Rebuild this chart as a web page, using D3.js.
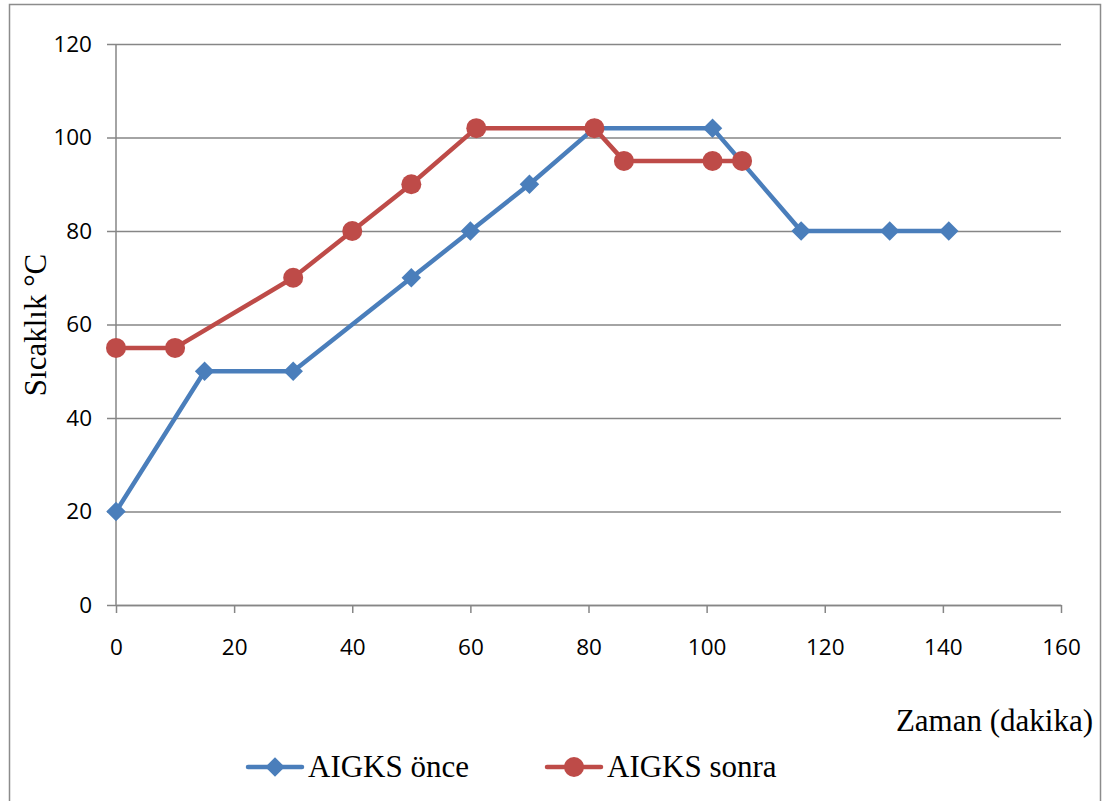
<!DOCTYPE html>
<html>
<head>
<meta charset="utf-8">
<script src="https://cdn.jsdelivr.net/npm/d3@7"></script>
<style>
  html, body { margin: 0; padding: 0; background: #fff; }
  svg { display: block; }
</style>
</head>
<body>
<script>
// Temperature profile over time, before and after AIGKS
const onceTime   = [0, 15, 30, 50, 60, 70, 81, 101, 116, 131, 141];
const onceTemp   = [20, 50, 50, 70, 80, 90, 102, 102, 80, 80, 80];
const sonraTime  = [0, 10, 30, 40, 50, 61, 81, 86, 101, 106];
const sonraTemp  = [55, 55, 70, 80, 90, 102, 102, 95, 95, 95];
const xTicks = [0, 20, 40, 60, 80, 100, 120, 140, 160];
const yTicks = [0, 20, 40, 60, 80, 100, 120];
const seriesNames = ["AIGKS önce", "AIGKS sonra"];

const W = 1105, H = 801;
const blue = "#4a7ebb", red = "#be4b48", grid = "#868686";
const tickFont = "Open Sans, Liberation Sans, sans-serif";
const titleFont = "Liberation Serif, serif";

const svg = d3.select("body").append("svg").attr("width", W).attr("height", H);

// outer frame
svg.append("rect").attr("x", 9.5).attr("y", 4.5).attr("width", 1091).attr("height", 805)
  .attr("fill", "none").attr("stroke", "#8c8c8c").attr("stroke-width", 1.5);

const x = d3.scaleLinear().domain([0, 160]).range([116, 1061]);
const y = d3.scaleLinear().domain([0, 120]).range([605, 44]);

// horizontal gridlines with left tick marks
const yAxis = d3.axisLeft(y).tickValues(yTicks).tickSize(-(1061 - 107)).tickSizeOuter(0).tickPadding(15);
const gy = svg.append("g").attr("transform", "translate(107,0)").call(yAxis);
gy.select(".domain").remove();
gy.selectAll(".tick line").attr("stroke", grid).attr("stroke-width", 1.5);
gy.selectAll(".tick text").attr("font-family", tickFont)
  .attr("font-size", 22.5).attr("fill", "#000");

// vertical axis line
svg.append("line").attr("x1", 116).attr("x2", 116).attr("y1", 44).attr("y2", 605)
  .attr("stroke", grid).attr("stroke-width", 1.5);

// x axis
const xAxis = d3.axisBottom(x).tickValues(xTicks).tickSize(8).tickSizeOuter(0).tickPadding(26);
const gx = svg.append("g").attr("transform", "translate(0,605)").call(xAxis);
gx.select(".domain").attr("stroke", grid).attr("stroke-width", 1.5);
gx.selectAll(".tick line").attr("stroke", grid).attr("stroke-width", 1.5);
gx.selectAll(".tick text").attr("font-family", tickFont)
  .attr("font-size", 22.5).attr("fill", "#000");

// axis titles
svg.append("text").attr("transform", "translate(46,325) rotate(-90)")
  .attr("text-anchor", "middle").attr("font-family", titleFont)
  .attr("font-size", 31).text("Sıcaklık °C");
svg.append("text").attr("x", 1093).attr("y", 731).attr("text-anchor", "end")
  .attr("font-family", titleFont).attr("font-size", 31).text("Zaman (dakika)");

const line = d3.line().x(d => x(d[0])).y(d => y(d[1]));
const oncePts = onceTime.map((t, i) => [t, onceTemp[i]]);
const sonraPts = sonraTime.map((t, i) => [t, sonraTemp[i]]);

const diamond = d3.symbol().type(d3.symbolSquare).size(190);

// before series
svg.append("path").datum(oncePts).attr("d", line).attr("fill", "none")
  .attr("stroke", blue).attr("stroke-width", 4.5).attr("stroke-linejoin", "round");
svg.append("g").selectAll("path").data(oncePts).join("path")
  .attr("d", diamond).attr("fill", blue)
  .attr("transform", d => `translate(${x(d[0])},${y(d[1])}) rotate(45)`);

// after series
svg.append("path").datum(sonraPts).attr("d", line).attr("fill", "none")
  .attr("stroke", red).attr("stroke-width", 4.5).attr("stroke-linejoin", "round");
svg.append("g").selectAll("circle").data(sonraPts).join("circle")
  .attr("cx", d => x(d[0])).attr("cy", d => y(d[1])).attr("r", 10).attr("fill", red);

// legend
const legend = [
  { name: seriesNames[0], color: blue, x0: 248, marker: "diamond" },
  { name: seriesNames[1], color: red, x0: 547, marker: "circle" }
];
const ly = 767;
legend.forEach(l => {
  const g = svg.append("g");
  g.append("line").attr("x1", l.x0).attr("x2", l.x0 + 54).attr("y1", ly).attr("y2", ly)
    .attr("stroke", l.color).attr("stroke-width", 4.5).attr("stroke-linecap", "round");
  if (l.marker === "diamond") {
    g.append("path").attr("d", diamond).attr("fill", l.color)
      .attr("transform", `translate(${l.x0 + 27},${ly}) rotate(45)`);
  } else {
    g.append("circle").attr("cx", l.x0 + 27).attr("cy", ly).attr("r", 10).attr("fill", l.color);
  }
  g.append("text").attr("x", l.x0 + 60).attr("y", ly + 10)
    .attr("font-family", titleFont).attr("font-size", 31).text(l.name);
});
</script>
</body>
</html>
